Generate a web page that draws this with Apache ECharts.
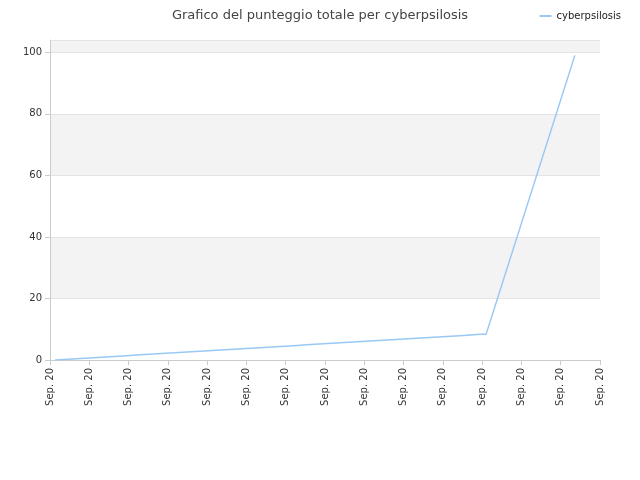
<!DOCTYPE html><html><head><meta charset="utf-8"><script src="https://cdn.jsdelivr.net/npm/echarts@6/dist/echarts.min.js"></script></head><body style="margin:0"><div id="c" style="width:640px;height:480px"></div><script>
const tickLabels=["Sep. 20","Sep. 20","Sep. 20","Sep. 20","Sep. 20","Sep. 20","Sep. 20","Sep. 20","Sep. 20","Sep. 20","Sep. 20","Sep. 20","Sep. 20","Sep. 20","Sep. 20"];
const xs=[0.13,0.56,1.0,1.43,1.86,2.3,2.73,3.16,3.6,4.03,4.46,4.9,5.33,5.76,6.2,6.63,7.06,7.5,7.93,8.36,8.8,9.23,9.66,10.1,10.53,10.96,11.1,13.36];
const ys=[0,0.33,0.67,1,1.33,1.67,2,2.33,2.67,3,3.33,3.67,4,4.33,4.67,5,5.33,5.67,6,6.33,6.67,7,7.33,7.67,8,8.33,8.33,99];
const data=xs.map((x,i)=>[x,ys[i]]);
const ch=echarts.init(document.getElementById('c'));
ch.setOption({
title:{text:'Grafico del punteggio totale per cyberpsilosis',left:'center',top:4,textStyle:{fontSize:13,fontWeight:'normal',color:'#444',fontFamily:'DejaVu Sans'}},
legend:{right:14,top:6,itemWidth:12,itemHeight:2,icon:'rect',textStyle:{fontSize:10,color:'#222',fontFamily:'DejaVu Sans'}},
grid:{left:50,right:40,top:40,bottom:120},
xAxis:{type:'value',min:0,max:14,interval:1,axisLine:{lineStyle:{color:'#ccc'}},axisTick:{show:true,lineStyle:{color:'#ccc'}},splitLine:{show:false},
axisLabel:{rotate:90,fontSize:10,color:'#333',fontFamily:'DejaVu Sans',formatter:(v)=>tickLabels[Math.round(v)]}},
yAxis:{type:'value',min:0,max:104,interval:20,axisLabel:{showMaxLabel:false,fontSize:10,color:'#333',fontFamily:'DejaVu Sans'},
axisLine:{show:true,lineStyle:{color:'#ccc'}},splitLine:{lineStyle:{color:'#e4e4e4'}},splitArea:{show:true,areaStyle:{color:['#ffffff','#f3f3f3']}}},
series:[{name:'cyberpsilosis',type:'line',step:false,data:data,showSymbol:false,lineStyle:{color:'#99c8f5',width:1.5},itemStyle:{color:'#99c8f5'}}]
});
</script></body></html>
